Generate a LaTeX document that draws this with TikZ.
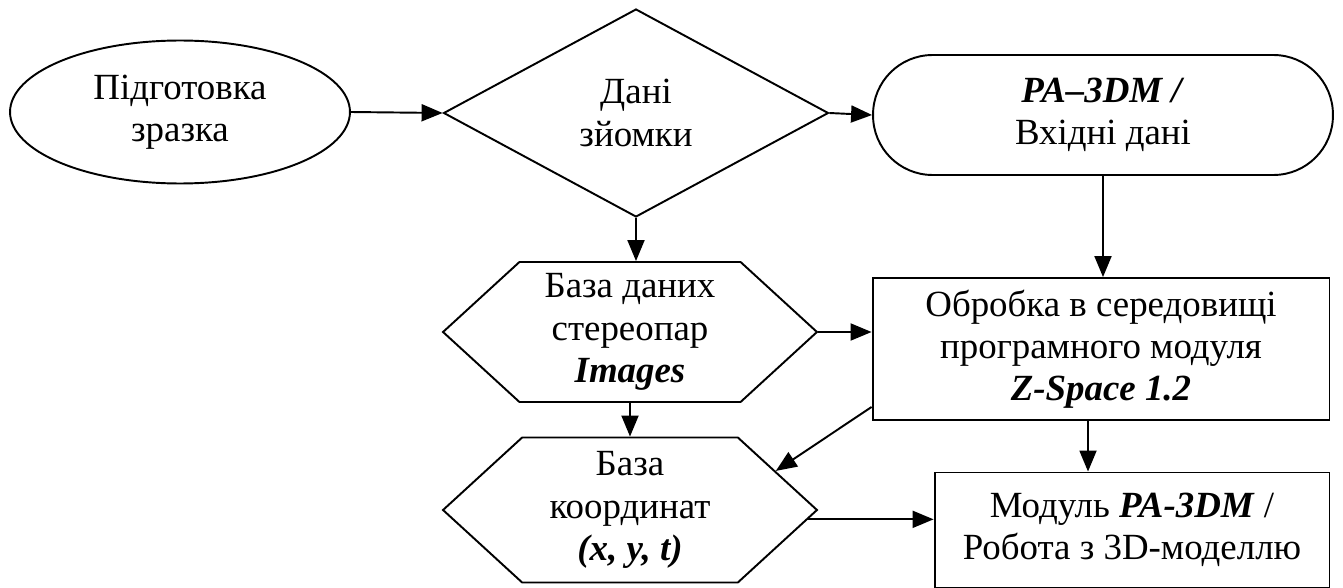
\documentclass[tikz,border=0pt]{standalone}
\usepackage{fontspec}
\setmainfont{Liberation Serif}
\usetikzlibrary{arrows.meta, positioning, shapes.geometric, shapes.symbols}

\begin{document}
\begin{tikzpicture}[x=0.02cm, y=-0.02cm, line width=1.1pt,
    every node/.style={font=\fontsize{21}{24}\selectfont, align=center},
    flow/.style={-{Triangle[length=0.42cm, width=0.34cm]}}]
    \useasboundingbox (0,0) rectangle (1343,588);

    % Top row: preparation, survey data, input data
    \node[ellipse, draw, minimum width=6.8cm, minimum height=2.86cm] (prep) at (180,112) {Підготовка\\зразка};
    \node[diamond, draw, minimum width=7.7cm, minimum height=4.16cm, inner sep=0pt] (survey) at (636,113) {Дані\\зйомки};
    \node[rectangle, draw, rounded corners=1.19cm, minimum width=9.2cm, minimum height=2.4cm] (input) at (1103,115)
        {\textbf{\textit{PA–3DM /}}\\Вхідні дані};

    % Databases (hexagons)
    \node[signal, signal to=west and east, signal pointer angle=85, draw, minimum width=7.48cm, minimum height=2.8cm]
        (stereo) at (630,332) {База даних\\стереопар\\\textbf{\textit{Images}}};
    \node[signal, signal to=west and east, signal pointer angle=85, draw, minimum width=7.48cm, minimum height=2.9cm]
        (coords) at (630,510) {База\\координат\\\textbf{\textit{(x, y, t)}}};

    % Processing and model
    \node[rectangle, draw, minimum width=9.14cm, minimum height=2.84cm] (proc) at (1101,349)
        {Обробка в середовищі\\програмного модуля\\\textbf{\textit{Z-Space 1.2}}};
    \node[rectangle, draw, minimum width=7.9cm, minimum height=2.3cm] (model) at (1132,530)
        {Модуль \textbf{\textit{PA-3DM}} /\\Робота з 3D-моделлю};

    % Connections
    \draw[flow] (prep.east) -- (survey.west);
    \draw[flow] (survey.east) -- (input.west);
    \draw[flow] (input.south) -- (input.south |- proc.north);
    \draw[flow] (survey.south) -- (survey.south |- stereo.north);
    \draw[flow] (stereo.east) -- (stereo.east -| proc.west);
    \draw[flow] (stereo.south) -- (stereo.south |- coords.north);
    \draw[flow] ([yshift=-1.16cm]proc.west) -- (coords.15);
    \draw[flow] ([xshift=-0.26cm]proc.south) -- ([xshift=-0.26cm]proc.south |- model.north);
    \draw[flow] (coords.-3.5) -- (coords.-3.5 -| model.west);
\end{tikzpicture}
\end{document}
